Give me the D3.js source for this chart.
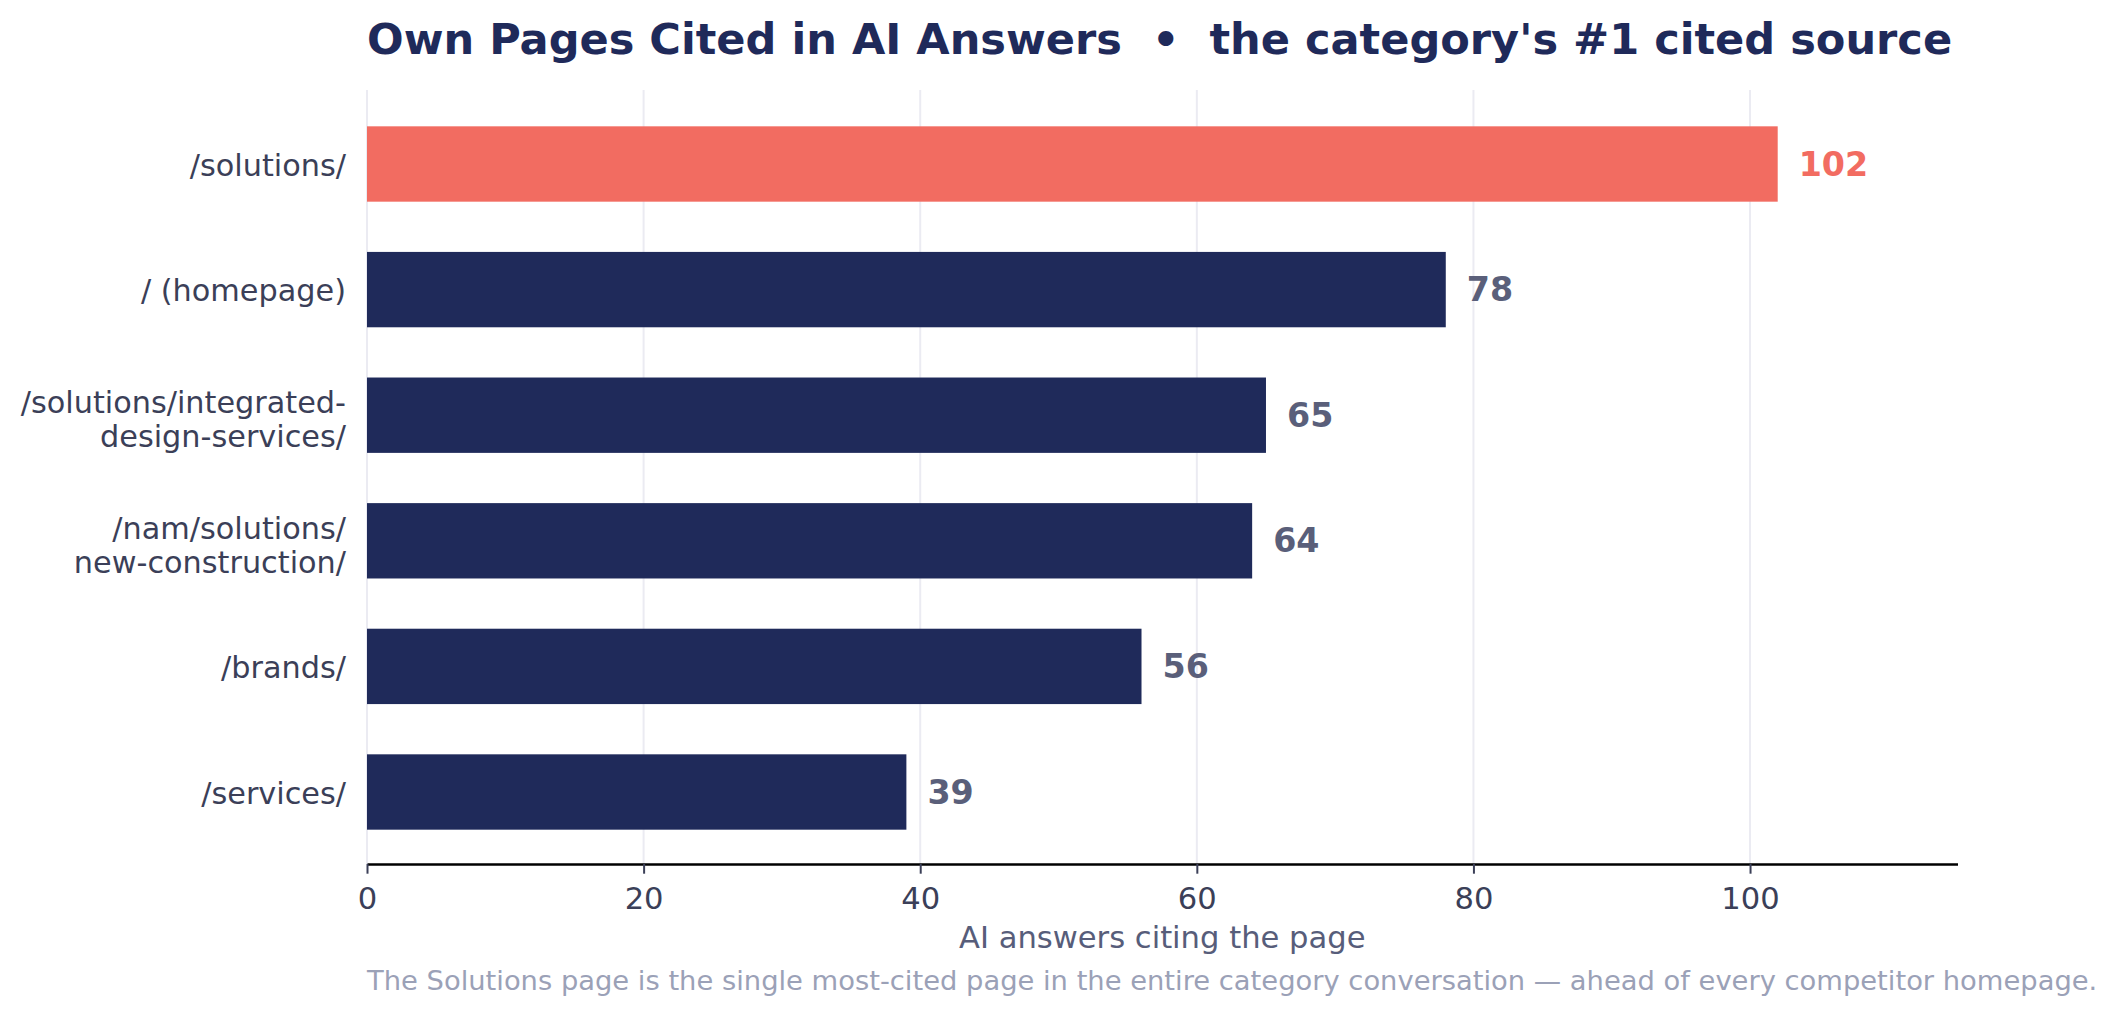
<!DOCTYPE html>
<html>
<head>
<meta charset="utf-8">
<script src="https://cdn.jsdelivr.net/npm/d3@7"></script>
<style>
  html, body { margin: 0; padding: 0; background: #ffffff; }
  svg { display: block; font-family: "DejaVu Sans", sans-serif; }
</style>
</head>
<body>
<svg id="chart" width="2116" height="1015"></svg>
<script>
// ---- data ----
const pages = [
  ["/solutions/"],
  ["/ (homepage)"],
  ["/solutions/integrated-", "design-services/"],
  ["/nam/solutions/", "new-construction/"],
  ["/brands/"],
  ["/services/"]
];
const citations = [102, 78, 65, 64, 56, 39];
const highlighted = [true, false, false, false, false, false];
const xTicks = [0, 20, 40, 60, 80, 100];
const titleText = "Own Pages Cited in AI Answers  \u2022  the category's #1 cited source";
const xLabelText = "AI answers citing the page";
const captionText = "The Solutions page is the single most-cited page in the entire category conversation \u2014 ahead of every competitor homepage.";

// ---- layout ----
const W = 2116, H = 1015;
const plotLeft = 367, plotRight = 1957.5, plotTop = 90, axisY = 864;
const navy = "#1f2a5a", coral = "#f26c61";

const rows = pages.map((p, i) => ({ key: p.join(""), lines: p, value: citations[i], hi: highlighted[i] }));

const svg = d3.select("#chart");
svg.append("rect").attr("width", W).attr("height", H).attr("fill", "#ffffff");

const x = d3.scaleLinear().domain([0, 115]).range([plotLeft, plotRight]);
const y = d3.scaleBand().domain(rows.map(d => d.key)).range([101.2, 854.8]).paddingInner(0.4).paddingOuter(0.2);

// gridlines
svg.append("g").selectAll("line").data(xTicks).join("line")
  .attr("x1", d => x(d)).attr("x2", d => x(d))
  .attr("y1", plotTop).attr("y2", axisY)
  .attr("stroke", "#ebebf2").attr("stroke-width", 2);

// bars
svg.append("g").selectAll("rect").data(rows).join("rect")
  .attr("x", x(0))
  .attr("y", d => y(d.key))
  .attr("width", d => x(d.value) - x(0))
  .attr("height", y.bandwidth())
  .attr("fill", d => d.hi ? coral : navy);

// value labels
svg.append("g").selectAll("text").data(rows).join("text")
  .attr("x", d => x(d.value) + 21)
  .attr("y", d => y(d.key) + y.bandwidth() / 2 + 11.5)
  .attr("font-size", 33.3)
  .attr("font-weight", "bold")
  .attr("fill", d => d.hi ? coral : "#5a5f7a")
  .text(d => d.value);

// x axis
const xAxis = d3.axisBottom(x).tickValues(xTicks).tickSize(9.7).tickSizeOuter(0).tickFormat(d3.format("d"));
const gx = svg.append("g").attr("transform", `translate(0,${axisY})`).call(xAxis);
gx.select(".domain").attr("stroke", "#000000").attr("stroke-width", 2.6);
gx.selectAll(".tick line").attr("stroke", "#3b3f58").attr("stroke-width", 2);
gx.selectAll(".tick text")
  .attr("y", 45).attr("dy", 0)
  .attr("font-family", "DejaVu Sans")
  .attr("font-size", 30.6)
  .attr("fill", "#3b3f58");

// y labels
const yl = svg.append("g").selectAll("text").data(rows).join("text")
  .attr("text-anchor", "end")
  .attr("font-size", 30.3)
  .attr("fill", "#3b3f58");
yl.each(function(d) {
  const c = y(d.key) + y.bandwidth() / 2;
  const t = d3.select(this);
  if (d.lines.length === 1) {
    t.append("tspan").attr("x", 346).attr("y", c + 11.5).text(d.lines[0]);
  } else {
    d.lines.forEach((ln, k) => {
      t.append("tspan").attr("x", 346).attr("y", c - 2 + k * 34).text(ln);
    });
  }
});

// title
svg.append("text")
  .attr("x", plotLeft).attr("y", 54)
  .attr("font-size", 43.1).attr("font-weight", "bold")
  .attr("fill", navy)
  .style("white-space", "pre")
  .text(titleText);

// x label
svg.append("text")
  .attr("x", (plotLeft + plotRight) / 2).attr("y", 948)
  .attr("text-anchor", "middle")
  .attr("font-size", 30.6)
  .attr("fill", "#575d7a")
  .text(xLabelText);

// caption
svg.append("text")
  .attr("x", plotLeft).attr("y", 990)
  .attr("font-size", 27.35)
  .attr("fill", "#9ba1b7")
  .text(captionText);
</script>
</body>
</html>
